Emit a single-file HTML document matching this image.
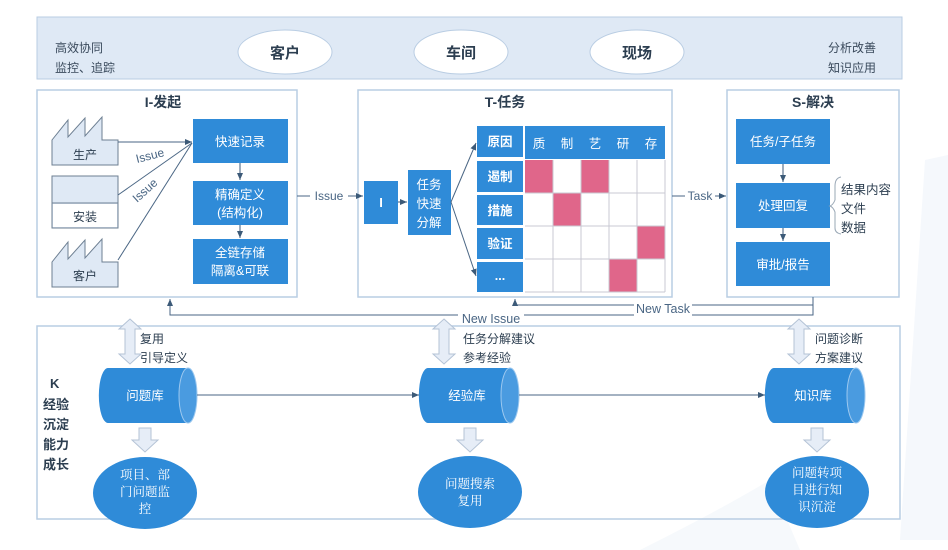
<!DOCTYPE html>
<html><head><meta charset="utf-8"><style>
body{margin:0;background:#fff;}
svg{display:block;font-family:"Liberation Sans","Noto Sans CJK SC",sans-serif;}
</style></head><body>
<svg width="948" height="550" viewBox="0 0 948 550" xmlns="http://www.w3.org/2000/svg">
<defs>
<marker id="a" markerWidth="8" markerHeight="8" refX="7" refY="4" orient="auto" markerUnits="userSpaceOnUse"><path d="M0,1 L7,4 L0,7z" fill="#3c5a78"/></marker>
</defs>
<!-- background decoration -->
<path d="M925,160 L948,155 L948,540 L900,540 Z" fill="#f5f8fc"/>
<path d="M640,550 Q720,510 770,480 L800,550Z" fill="#f6f9fc"/>
<!-- top bar -->
<rect x="37" y="17" width="865" height="62" fill="#dfe9f5" stroke="#b9cde3"/>
<text x="55" y="52" font-size="12" fill="#3a4a5c">高效协同</text>
<text x="55" y="72" font-size="12" fill="#3a4a5c">监控、追踪</text>
<text x="828" y="52" font-size="12" fill="#3a4a5c">分析改善</text>
<text x="828" y="72" font-size="12" fill="#3a4a5c">知识应用</text>
<g font-size="15" font-weight="bold" fill="#2c3e50" text-anchor="middle">
<ellipse cx="285" cy="52" rx="47" ry="22" fill="#fff" stroke="#b9cde3"/><text x="285" y="58">客户</text>
<ellipse cx="461" cy="52" rx="47" ry="22" fill="#fff" stroke="#b9cde3"/><text x="461" y="58">车间</text>
<ellipse cx="637" cy="52" rx="47" ry="22" fill="#fff" stroke="#b9cde3"/><text x="637" y="58">现场</text>
</g>
<!-- panels -->
<rect x="37" y="90" width="260" height="207" fill="#fff" stroke="#b9cde3" stroke-width="1.5"/>
<rect x="358" y="90" width="314" height="207" fill="#fff" stroke="#b9cde3" stroke-width="1.5"/>
<rect x="727" y="90" width="172" height="207" fill="#fff" stroke="#b9cde3" stroke-width="1.5"/>
<g font-size="14" font-weight="bold" fill="#2c3e50" text-anchor="middle">
<text x="163" y="107">I-发起</text><text x="505" y="107">T-任务</text><text x="813" y="107">S-解决</text>
</g>
<!-- I panel factories -->
<g fill="#dfe9f5" stroke="#6d7f92" stroke-width="1">
<path d="M52,165 L52,140 L68,120 L68,137 L85,118 L85,136 L102,117 L102,140 L118,140 L118,165Z"/>
<rect x="52" y="176" width="66" height="52"/><line x1="52" y1="203" x2="118" y2="203"/>
<path d="M52,287 L52,262 L68,242 L68,259 L85,240 L85,258 L102,239 L102,262 L118,262 L118,287Z"/>
</g>
<rect x="53" y="204" width="64" height="23" fill="#fff"/>
<g font-size="12" fill="#2c3e50" text-anchor="middle">
<text x="85" y="159">生产</text><text x="85" y="221">安装</text><text x="85" y="280">客户</text>
</g>
<g stroke="#4a6684" stroke-width="1" fill="none">
<line x1="118" y1="142" x2="192" y2="142" marker-end="url(#a)"/>
<line x1="118" y1="195" x2="192" y2="143"/>
<line x1="118" y1="260" x2="192" y2="143"/>
</g>
<text x="137" y="163" font-size="12" fill="#4a6684" transform="rotate(-14 137 163)">Issue</text>
<text x="137" y="203" font-size="12" fill="#4a6684" transform="rotate(-42 137 203)">Issue</text>
<g fill="#2f8bd8">
<rect x="193" y="119" width="95" height="44"/><rect x="193" y="181" width="95" height="44"/><rect x="193" y="239" width="95" height="45"/>
</g>
<g stroke="#3c5a78" fill="none"><line x1="240" y1="163" x2="240" y2="180" marker-end="url(#a)"/><line x1="240" y1="225" x2="240" y2="238" marker-end="url(#a)"/></g>
<g font-size="12.5" fill="#fff" text-anchor="middle">
<text x="240" y="146">快速记录</text><text x="240" y="199">精确定义</text><text x="240" y="217">(结构化)</text>
<text x="240" y="257">全链存储</text><text x="240" y="275">隔离&amp;可联</text>
</g>
<!-- Issue arrow -->
<line x1="297" y1="196" x2="363" y2="196" stroke="#4a6684" marker-end="url(#a)"/>
<rect x="310" y="188" width="38" height="14" fill="#fff"/>
<text x="329" y="200" font-size="12" fill="#4a6684" text-anchor="middle">Issue</text>
<!-- T panel -->
<rect x="364" y="181" width="34" height="43" fill="#2f8bd8"/>
<text x="381" y="207" font-size="13" fill="#fff" text-anchor="middle" font-weight="bold">I</text>
<line x1="398" y1="202" x2="407" y2="202" stroke="#3c5a78" marker-end="url(#a)"/>
<rect x="408" y="170" width="43" height="65" fill="#2f8bd8"/>
<g font-size="12.5" fill="#fff" text-anchor="middle"><text x="429" y="189">任务</text><text x="429" y="208">快速</text><text x="429" y="227">分解</text></g>
<g stroke="#4a6684" fill="none"><line x1="451" y1="202" x2="476" y2="143" marker-end="url(#a)"/><line x1="451" y1="202" x2="476" y2="276" marker-end="url(#a)"/></g>
<g fill="#2f8bd8">
<rect x="477" y="126" width="46" height="31"/><rect x="477" y="161" width="46" height="31"/><rect x="477" y="195" width="46" height="30"/><rect x="477" y="228" width="46" height="31"/><rect x="477" y="262" width="46" height="30"/>
<rect x="525" y="126" width="140" height="33"/>
</g>
<g font-size="12.5" fill="#fff" text-anchor="middle" font-weight="bold">
<text x="500" y="146">原因</text><text x="500" y="181">遏制</text><text x="500" y="215">措施</text><text x="500" y="248">验证</text><text x="500" y="280">...</text>
</g>
<g font-size="12.5" fill="#fff" text-anchor="middle">
<text x="539" y="148">质</text><text x="567" y="148">制</text><text x="595" y="148">艺</text><text x="623" y="148">研</text><text x="651" y="148">存</text>
</g>
<g fill="#e0668a">
<rect x="525" y="160" width="28" height="33"/><rect x="581" y="160" width="28" height="33"/>
<rect x="553" y="193" width="28" height="33"/><rect x="637" y="226" width="28" height="33"/><rect x="609" y="259" width="28" height="33"/>
</g>
<g stroke="#c9c9d3" stroke-width="1">
<line x1="525" y1="193" x2="665" y2="193"/><line x1="525" y1="226" x2="665" y2="226"/><line x1="525" y1="259" x2="665" y2="259"/><line x1="525" y1="292" x2="665" y2="292"/>
<line x1="553" y1="160" x2="553" y2="292"/><line x1="581" y1="160" x2="581" y2="292"/><line x1="609" y1="160" x2="609" y2="292"/><line x1="637" y1="160" x2="637" y2="292"/><line x1="665" y1="160" x2="665" y2="292"/>
</g>
<!-- Task arrow -->
<line x1="672" y1="196" x2="726" y2="196" stroke="#4a6684" marker-end="url(#a)"/>
<rect x="685" y="188" width="30" height="14" fill="#fff"/>
<text x="700" y="200" font-size="12" fill="#4a6684" text-anchor="middle">Task</text>
<!-- S panel -->
<g fill="#2f8bd8"><rect x="736" y="119" width="94" height="45"/><rect x="736" y="183" width="94" height="45"/><rect x="736" y="242" width="94" height="44"/></g>
<g stroke="#3c5a78" fill="none"><line x1="783" y1="164" x2="783" y2="182" marker-end="url(#a)"/><line x1="783" y1="228" x2="783" y2="241" marker-end="url(#a)"/></g>
<g font-size="12.5" fill="#fff" text-anchor="middle"><text x="783" y="146">任务/子任务</text><text x="783" y="210">处理回复</text><text x="783" y="269">审批/报告</text></g>
<path d="M841,177 Q835,178 835,186 L835,200 Q833,205 830,206 Q833,207 835,212 L835,228 Q835,233 841,234" stroke="#9aa8b6" fill="none"/>
<g font-size="12.5" fill="#2c3e50"><text x="841" y="194">结果内容</text><text x="841" y="213">文件</text><text x="841" y="232">数据</text></g>
<!-- feedback lines -->
<g stroke="#4a6684" fill="none">
<path d="M813,297 L813,315 L170,315 L170,299" marker-end="url(#a)"/>
<path d="M813,305 L515,305 L515,299" marker-end="url(#a)"/>
</g>
<rect x="634" y="301" width="58" height="15" fill="#fff"/>
<text x="663" y="313" font-size="12.5" fill="#4a6684" text-anchor="middle">New Task</text>
<rect x="458" y="311" width="66" height="15" fill="#fff"/>
<text x="491" y="323" font-size="12.5" fill="#4a6684" text-anchor="middle">New Issue</text>
<!-- K panel -->
<rect x="37" y="326" width="863" height="193" fill="none" stroke="#b9cde3" stroke-width="1.5"/>
<g font-size="13" font-weight="bold" fill="#2c3e50">
<text x="50" y="388">K</text><text x="43" y="409">经验</text><text x="43" y="429">沉淀</text><text x="43" y="449">能力</text><text x="43" y="469">成长</text>
</g>
<!-- double arrows -->
<g fill="#e6edf7" stroke="#b4c3d6">
<path d="M130,319 L141,329 L135,329 L135,354 L141,354 L130,364 L119,354 L125,354 L125,329 L119,329Z"/>
<path d="M444,319 L455,329 L449,329 L449,354 L455,354 L444,364 L433,354 L439,354 L439,329 L433,329Z"/>
<path d="M799,319 L810,329 L804,329 L804,354 L810,354 L799,364 L788,354 L794,354 L794,329 L788,329Z"/>
<path d="M139,428 L151,428 L151,440 L158,440 L145,452 L132,440 L139,440Z"/>
<path d="M464,428 L476,428 L476,440 L483,440 L470,452 L457,440 L464,440Z"/>
<path d="M811,428 L823,428 L823,440 L830,440 L817,452 L804,440 L811,440Z"/>
</g>
<g font-size="12" fill="#2c3e50">
<text x="140" y="343">复用</text><text x="140" y="362">引导定义</text>
<text x="463" y="343">任务分解建议</text><text x="463" y="362">参考经验</text>
<text x="815" y="343">问题诊断</text><text x="815" y="362">方案建议</text>
</g>
<!-- cylinders -->
<g>
<path d="M108,368 L188,368 A9,27 0 0 1 188,423 L108,423 A9,27 0 0 1 108,368Z" fill="#2f8bd8"/>
<ellipse cx="188" cy="395.5" rx="9" ry="27.5" fill="#4a9be0" stroke="#9cc8ef"/>
<path d="M428,368 L510,368 A9,27 0 0 1 510,423 L428,423 A9,27 0 0 1 428,368Z" fill="#2f8bd8"/>
<ellipse cx="510" cy="395.5" rx="9" ry="27.5" fill="#4a9be0" stroke="#9cc8ef"/>
<path d="M774,368 L856,368 A9,27 0 0 1 856,423 L774,423 A9,27 0 0 1 774,368Z" fill="#2f8bd8"/>
<ellipse cx="856" cy="395.5" rx="9" ry="27.5" fill="#4a9be0" stroke="#9cc8ef"/>
</g>
<g font-size="12.5" fill="#fff" text-anchor="middle"><text x="145" y="400">问题库</text><text x="467" y="400">经验库</text><text x="813" y="400">知识库</text></g>
<g stroke="#4a6684" fill="none"><line x1="197" y1="395" x2="419" y2="395" marker-end="url(#a)"/><line x1="519" y1="395" x2="765" y2="395" marker-end="url(#a)"/></g>
<!-- circles -->
<g fill="#2f8bd8"><ellipse cx="145" cy="493" rx="52" ry="36"/><ellipse cx="470" cy="492" rx="52" ry="36"/><ellipse cx="817" cy="492" rx="52" ry="36"/></g>
<g font-size="12.5" fill="#fff" text-anchor="middle" font-family="'Noto Serif CJK SC','Liberation Serif',serif">
<text x="145" y="479">项目、部</text><text x="145" y="496">门问题监</text><text x="145" y="513">控</text>
<text x="470" y="488">问题搜索</text><text x="470" y="505">复用</text>
<text x="817" y="477">问题转项</text><text x="817" y="494">目进行知</text><text x="817" y="511">识沉淀</text>
</g>
</svg>
</body></html>
